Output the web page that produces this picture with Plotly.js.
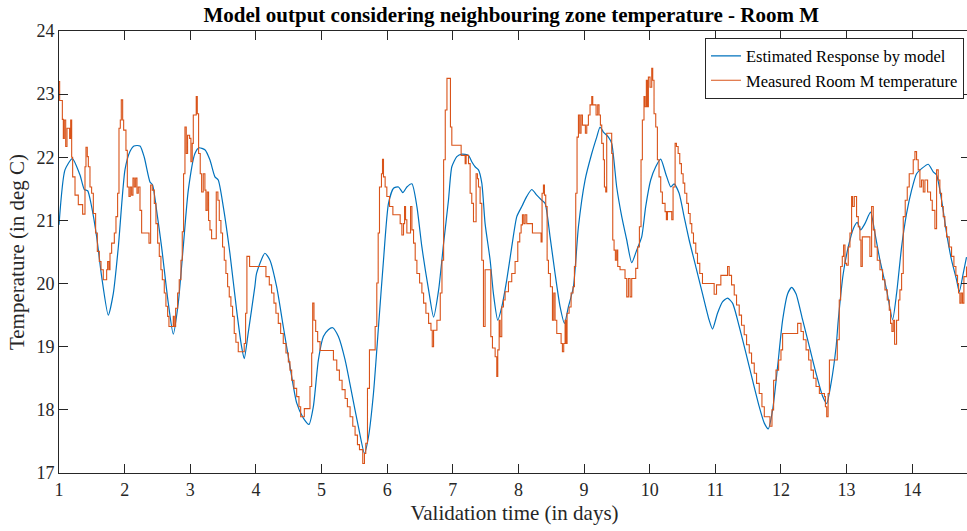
<!DOCTYPE html>
<html>
<head>
<meta charset="utf-8">
<script src="https://cdn.plot.ly/plotly-3.0.1.min.js"></script>
<style>
html,body{margin:0;padding:0;overflow:hidden;background:#fff;}
#chart{width:970px;height:531px;}
</style>
</head>
<body>
<div id="chart"></div>
<script>
// Estimated response by model (days, deg C)
const modelDays = [1.000,1.091,1.203,1.320,1.386,1.437,1.497,1.574,1.650,1.751,1.827,1.904,2.005,2.081,2.142,2.234,2.299,2.386,2.426,2.487,2.563,2.665,2.741,2.817,2.893,2.970,3.071,3.132,3.223,3.299,3.376,3.426,3.503,3.604,3.706,3.782,3.822,3.883,3.985,
4.010,4.137,4.214,4.316,4.417,4.519,4.621,4.723,4.809,4.875,4.952,5.028,5.104,5.170,5.257,5.359,5.461,5.562,5.654,5.715,5.791,5.868,5.944,6.020,6.097,6.173,6.239,6.300,6.377,6.453,6.529,6.631,6.707,6.784,6.860,
6.934,6.985,7.061,7.137,7.239,7.289,7.340,7.391,7.442,7.492,7.569,7.619,7.685,7.746,7.822,7.898,7.975,8.051,8.127,8.203,8.279,8.355,8.406,8.482,8.558,8.635,8.701,8.761,8.838,8.914,9.015,9.117,9.193,9.244,9.294,9.371,9.421,9.497,9.574,9.650,9.726,9.802,9.878,
9.939,10.015,10.092,10.168,10.244,10.321,10.372,10.448,10.524,10.601,10.702,10.804,10.906,10.957,11.033,11.109,11.186,11.262,11.364,11.466,11.567,11.669,11.746,11.807,11.873,11.949,12.025,12.102,12.163,12.229,12.331,12.433,12.534,12.636,12.697,12.763,12.840,
12.873,12.949,13.025,13.102,13.162,13.213,13.279,13.365,13.431,13.508,13.609,13.701,13.761,13.838,13.914,13.990,14.066,14.142,14.244,14.320,14.371,14.447,14.523,14.599,14.675,14.716,14.777,14.827];
const modelTemp = [20.93,21.80,21.98,21.72,21.49,21.47,21.22,20.74,20.11,19.50,19.84,20.58,21.80,22.09,22.18,22.18,22.00,21.61,21.56,21.16,20.58,19.69,19.20,19.69,20.58,21.48,22.06,22.15,22.12,21.96,21.69,21.64,21.22,20.48,19.58,19.00,18.81,19.22,19.96,
20.16,20.48,20.37,19.95,19.32,18.69,18.11,17.87,17.77,18.05,18.79,19.16,19.27,19.30,19.16,18.79,18.26,17.73,17.31,17.57,18.26,19.32,20.37,21.27,21.51,21.53,21.44,21.53,21.58,21.22,20.58,19.90,19.47,19.90,20.64,
21.32,21.85,22.01,22.05,22.03,21.93,21.85,21.80,21.59,20.95,20.37,19.84,19.42,19.63,20.06,20.58,21.06,21.22,21.38,21.49,21.40,21.32,21.27,20.74,20.16,19.63,19.37,19.63,19.95,20.90,21.64,22.06,22.32,22.48,22.40,22.32,22.22,21.53,21.06,20.69,20.33,20.53,20.74,
21.22,21.64,21.85,21.97,21.74,21.53,21.58,21.43,21.06,20.69,20.27,19.84,19.42,19.28,19.53,19.71,19.77,19.69,19.32,18.90,18.47,18.05,17.79,17.70,18.00,18.69,19.42,19.84,19.94,19.84,19.42,19.00,18.58,18.21,18.10,18.42,19.00,
19.42,20.16,20.58,20.87,20.97,20.85,20.95,21.13,20.80,20.37,19.90,19.43,19.84,20.58,21.11,21.48,21.74,21.82,21.89,21.77,21.72,21.32,20.80,20.37,20.06,19.87,20.16,20.42];

// Measured Room M temperature (days, deg C)
const measDays = [1.000,1.010,1.051,1.066,1.081,1.102,1.122,1.162,1.178,1.193,1.208,1.244,1.294,1.360,1.396,1.411,1.431,1.447,1.472,1.497,1.523,1.558,1.584,1.614,1.640,1.675,1.726,1.741,1.761,1.777,1.802,1.843,1.868,1.893,1.914,1.934,1.949,1.970,1.985,2.020,2.041,2.066,2.086,2.107,2.127,2.147,2.168,2.188,2.208,2.234,2.259,2.371,2.396,2.421,2.452,2.477,2.503,2.528,2.553,2.574,2.604,2.629,2.655,2.675,2.741,2.756,2.777,2.807,2.832,2.858,2.878,2.898,2.919,2.939,2.959,2.990,3.010,3.030,3.046,3.091,3.107,3.127,3.152,3.173,3.198,3.223,3.239,3.259,3.279,3.300,3.325,3.396,3.421,3.442,3.467,3.492,3.518,3.543,3.569,3.594,3.619,3.645,3.670,3.695,3.731,3.822,3.843,3.863,3.904,
4.153,4.204,4.239,4.275,4.305,4.341,4.377,4.417,4.458,4.494,4.519,4.545,4.580,4.621,4.656,4.682,4.738,4.824,4.850,4.865,4.885,4.911,4.941,4.977,5.181,5.232,5.272,5.313,5.359,5.394,5.435,5.476,5.511,5.547,5.578,5.628,5.654,5.674,5.700,5.730,5.817,5.842,5.863,5.883,5.913,5.929,5.944,5.969,5.995,6.036,6.087,6.198,6.224,6.249,6.265,6.280,6.300,6.356,6.377,6.402,6.427,6.453,6.494,6.529,6.555,6.590,6.631,6.667,6.687,6.707,6.758,6.809,6.835,6.860,6.885,6.911,
6.964,6.985,7.127,7.188,7.203,7.239,7.264,7.289,7.315,7.355,7.376,7.391,7.416,7.442,7.467,7.492,7.579,7.604,7.645,7.670,7.685,7.706,7.721,7.746,7.772,7.797,7.848,7.898,7.949,7.990,8.020,8.041,8.061,8.081,8.102,8.127,8.213,8.345,8.360,8.381,8.396,8.416,8.437,8.457,8.487,8.518,8.538,8.558,8.584,8.650,8.670,8.690,8.711,8.726,8.741,8.772,8.802,8.832,8.853,8.873,8.893,8.914,8.934,8.954,8.975,9.020,9.041,9.066,9.091,9.117,9.132,9.183,9.208,9.228,9.249,9.269,9.294,9.310,9.330,9.345,9.421,9.437,9.457,9.477,9.497,9.513,9.548,9.624,9.650,9.675,9.701,9.726,9.787,9.817,9.843,9.868,9.888,9.913,
9.929,9.949,9.964,9.980,10.005,10.031,10.046,10.066,10.092,10.117,10.142,10.168,10.193,10.234,10.254,10.270,10.336,10.356,10.387,10.407,10.433,10.458,10.483,10.509,10.534,10.565,10.590,10.616,10.641,10.667,10.702,10.728,10.763,10.804,10.982,11.018,11.084,11.186,11.211,11.247,11.288,11.323,11.364,11.399,11.440,11.476,11.517,11.552,11.593,11.628,11.669,11.710,11.746,11.832,11.863,11.888,11.924,11.964,12.000,12.025,12.254,12.305,12.341,12.382,12.422,12.458,12.494,12.534,12.585,12.662,12.677,12.697,12.718,12.738,
12.858,12.888,12.909,12.934,12.954,12.975,13.000,13.025,13.051,13.076,13.091,13.117,13.152,13.178,13.203,13.218,13.239,13.355,13.381,13.406,13.431,13.467,13.508,13.548,13.584,13.619,13.650,13.670,13.690,13.711,13.731,13.761,13.792,13.812,13.838,13.863,13.893,13.924,13.954,14.015,14.041,14.066,14.091,14.117,14.142,14.168,14.193,14.234,14.279,14.305,14.345,14.371,14.396,14.421,14.447,14.472,14.497,14.523,14.563,14.599,14.635,14.665,14.690,14.706,14.726,14.746,14.766,14.787,14.827];
const measTemp = [23.20,22.90,22.60,22.30,22.59,22.17,22.46,22.30,22.59,22.00,21.69,21.40,21.25,21.10,21.85,22.16,22.01,21.85,21.53,21.43,21.11,20.80,20.51,20.35,20.22,20.06,20.22,20.35,20.22,20.48,20.64,20.80,21.06,21.43,22.46,22.59,22.91,22.59,22.43,22.11,21.53,21.38,21.53,21.40,21.67,21.53,21.67,21.43,21.53,21.16,20.80,20.64,21.56,21.48,21.27,20.95,20.64,20.43,20.22,20.06,19.85,19.64,19.48,19.32,19.48,19.32,19.61,19.85,20.06,20.37,20.82,21.74,22.48,22.06,22.35,22.30,21.93,22.22,22.67,22.96,22.69,22.06,21.74,21.45,21.74,21.48,21.16,21.45,21.00,20.85,20.71,21.45,21.32,21.00,20.80,20.58,20.37,20.16,19.95,19.79,19.64,19.48,19.21,19.07,18.92,19.05,19.53,20.43,20.27,
20.11,19.98,19.85,19.69,19.53,19.37,19.21,19.05,18.90,18.76,18.63,18.47,18.34,18.21,18.05,17.89,18.02,18.37,18.90,19.69,19.42,19.24,19.08,18.94,18.79,18.63,18.47,18.32,18.18,18.05,17.89,17.74,17.60,17.45,17.37,17.15,17.31,17.47,18.34,18.95,19.32,20.01,20.80,21.53,21.74,21.97,21.69,21.53,21.38,21.22,21.09,20.95,20.77,20.95,21.22,21.01,20.80,21.22,20.85,20.64,20.37,20.16,20.01,19.85,19.69,19.53,19.37,19.26,19.00,19.26,19.42,19.85,20.37,21.96,22.75,23.25,
22.48,22.19,22.03,21.90,22.03,21.90,21.43,21.27,20.98,21.74,21.66,21.53,21.27,20.37,19.32,20.22,19.16,18.98,18.84,18.53,18.95,19.42,19.16,19.63,19.74,19.87,20.03,20.16,20.35,20.66,20.80,20.93,21.09,20.95,21.09,20.95,20.80,20.66,21.43,21.56,21.40,21.22,20.37,20.16,19.95,19.42,19.85,19.42,19.21,19.05,18.92,19.05,19.42,19.05,19.53,19.63,19.85,19.95,20.27,21.43,22.32,22.67,22.38,22.67,22.51,22.38,22.51,22.67,22.83,22.96,22.83,22.67,22.83,22.67,22.51,22.22,21.96,21.53,21.45,22.38,22.06,20.69,20.53,20.37,20.53,20.27,20.22,20.08,19.79,20.08,19.79,20.08,20.24,20.58,20.90,21.96,22.59,22.96,22.80,
23.22,22.80,23.27,23.11,23.41,23.22,22.69,22.48,21.96,21.69,21.45,21.27,21.14,21.01,21.14,21.01,21.53,22.22,22.17,22.06,21.90,21.74,21.59,21.43,21.27,21.11,20.95,20.80,20.64,20.48,20.32,20.16,20.00,19.83,19.98,20.13,20.27,20.13,19.98,19.82,19.66,19.50,19.34,19.19,19.03,18.90,18.74,18.58,18.42,18.26,18.05,17.89,17.74,18.00,18.47,18.63,18.79,18.95,19.21,19.37,19.24,19.11,18.95,18.79,18.63,18.50,18.37,18.26,18.21,18.05,17.89,18.26,18.79,19.11,
19.74,20.27,20.43,20.61,20.32,20.29,20.58,20.80,21.38,21.22,21.38,21.06,20.90,20.69,20.27,20.74,20.43,21.22,20.85,20.58,20.37,20.22,20.06,19.90,19.74,19.58,19.37,19.24,19.42,19.04,19.42,19.74,19.90,20.16,21.06,21.32,21.53,21.74,21.96,22.09,21.96,21.80,21.53,21.64,21.45,21.64,21.45,21.32,21.16,20.87,21.80,21.64,21.43,21.22,21.06,20.90,20.74,20.58,20.43,20.27,20.13,20.00,19.85,19.69,19.85,19.69,20.11,20.27,20.27];

const xTicks = [1,2,3,4,5,6,7,8,9,10,11,12,13,14];
const yTicks = [17,18,19,20,21,22,23,24];

const font = 'Liberation Serif, Times New Roman, serif';
const traces = [
  {x: modelDays, y: modelTemp, type: 'scatter', mode: 'lines',
   name: 'Estimated Response by model',
   line: {color: '#0072BD', width: 1.2, shape: 'spline', smoothing: 0.6}},
  {x: measDays, y: measTemp, type: 'scatter', mode: 'lines',
   name: 'Measured Room M temperature',
   line: {color: '#D95319', width: 1.1, shape: 'hv'}}
];
const axisCommon = {
  showgrid: false, zeroline: false, showline: true, linecolor: '#262626', linewidth: 1,
  mirror: 'ticks', ticks: 'inside', ticklen: 9, tickcolor: '#262626', tickwidth: 1,
  tickfont: {family: font, size: 18, color: '#262626'}
};
const layout = {
  width: 970, height: 531,
  margin: {l: 59, r: 0, t: 31, b: 58},
  paper_bgcolor: '#fff', plot_bgcolor: '#fff',
  title: {text: '<b>Model output considering neighbouring zone temperature - Room M</b>',
          font: {family: font, size: 21, color: '#000'}, x: 0.527, xanchor: 'center', y: 0.972, yanchor: 'middle'},
  xaxis: Object.assign({}, axisCommon, {
    range: [1, 14.88], tickvals: xTicks, ticktext: xTicks.map(String),
    title: {text: 'Validation time (in days)', font: {family: font, size: 21, color: '#262626'}, standoff: 6}
  }),
  yaxis: Object.assign({}, axisCommon, {
    range: [17, 24], tickvals: yTicks, ticktext: yTicks.map(String),
    title: {text: 'Temperature (in deg C)', font: {family: font, size: 21, color: '#262626'}, standoff: 6}
  }),
  showlegend: true,
  legend: {x: 0.9934, xanchor: 'right', y: 0.985, yanchor: 'top',
           bgcolor: '#fff', bordercolor: '#262626', borderwidth: 1,
           font: {family: font, size: 16.5, color: '#000'},
           itemwidth: 30, tracegroupgap: 0}
};
Plotly.newPlot('chart', traces, layout, {displayModeBar: false, staticPlot: true});
</script>
</body>
</html>
